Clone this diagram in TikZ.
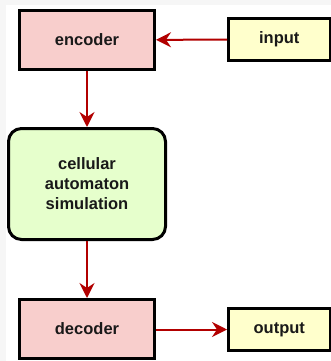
\documentclass[tikz,border=0pt]{standalone}
\usepackage{fontspec}
\setmainfont{Liberation Sans}
\usetikzlibrary{arrows.meta}
\definecolor{arrowred}{HTML}{B20000}
\definecolor{codecfill}{HTML}{F8CECC}
\definecolor{iofill}{HTML}{FFFFCC}
\definecolor{simfill}{HTML}{E6FFCC}
\definecolor{framegray}{HTML}{F6F6F6}
\tikzset{
  box/.style={draw=black, line width=3pt, inner sep=0pt, align=center,
    font=\fontsize{16.5}{20}\selectfont\bfseries, text=black!90},
  codec/.style={box, fill=codecfill, minimum width=135pt, minimum height=59pt},
  iobox/.style={box, fill=iofill, minimum width=101.5pt, minimum height=42.5pt},
  simbox/.style={box, fill=simfill, rounded corners=13pt, minimum width=157pt, minimum height=111pt},
  flow/.style={draw=arrowred, line width=2pt, -{Stealth[length=15pt, width=15pt, inset=5pt]}}
}
\begin{document}
\begin{tikzpicture}[x=1pt, y=-1pt]
  % canvas with a faint frame along the top and left edges
  \fill[framegray] (0,0) rectangle (331,361);
  \fill[white] (6,5) rectangle (331,361);
  \useasboundingbox (0,0) rectangle (331,361);

  \node[codec]  (enc) at (87,40)      {encoder};
  \node[iobox]  (in)  at (279.25,39.5) {input};
  \node[simbox] (sim) at (87,184)     {cellular\\automaton\\simulation};
  \node[codec]  (dec) at (87,329)     {decoder};
  \node[iobox]  (out) at (279.25,329.5) {output};

  \draw[flow] (in) -- (enc);
  \draw[flow] (enc) -- (sim);
  \draw[flow] (sim) -- (dec);
  \draw[flow] (dec.east |- out) -- (out);
\end{tikzpicture}
\end{document}
